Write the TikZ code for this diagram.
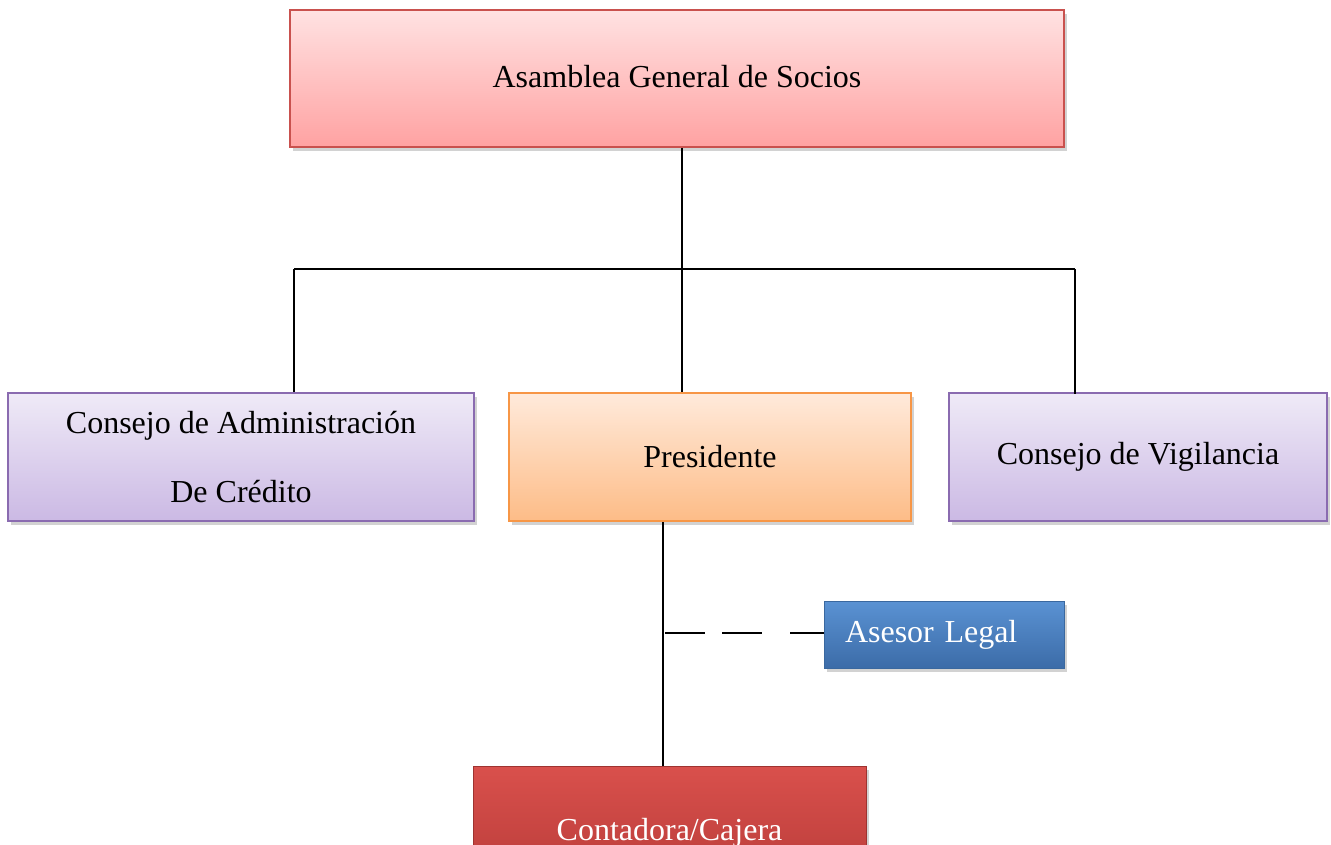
\documentclass[tikz,border=0pt]{standalone}
\usepackage{fontspec}
\setmainfont{Liberation Serif}
\usetikzlibrary{shadows}
\definecolor{redB}{HTML}{C9514E}
\definecolor{redT}{HTML}{FFE2E2}
\definecolor{redBo}{HTML}{FFA2A2}
\definecolor{purB}{HTML}{8A6BB0}
\definecolor{purT}{HTML}{EFEAF7}
\definecolor{purBo}{HTML}{CBB9E4}
\definecolor{oraB}{HTML}{F79646}
\definecolor{oraT}{HTML}{FFEADB}
\definecolor{oraBo}{HTML}{FDBC87}
\definecolor{bluT}{HTML}{5A92D3}
\definecolor{bluBo}{HTML}{3C6CA8}
\definecolor{bluB}{HTML}{3A689F}
\definecolor{ctT}{HTML}{D9504C}
\definecolor{ctBo}{HTML}{B53A37}
\definecolor{ctB}{HTML}{9E3330}
\tikzset{
  box/.style={rectangle, inner sep=0pt, line width=2pt, font=\fontsize{32}{38}\selectfont,
    drop shadow={shadow xshift=3pt, shadow yshift=-4pt, opacity=0.35, fill=gray}},
  redbox/.style={box, draw=redB, top color=redT, bottom color=redBo},
  purbox/.style={box, draw=purB, top color=purT, bottom color=purBo},
  orabox/.style={box, draw=oraB, top color=oraT, bottom color=oraBo},
  blubox/.style={box, draw=bluB, line width=1pt, top color=bluT, bottom color=bluBo, text=white},
  ctbox/.style={box, draw=ctB, line width=1pt, top color=ctT, bottom color=ctBo, text=white},
  conn/.style={draw=black, line width=1.8pt},
}
\begin{document}
\begin{tikzpicture}[x=1pt,y=-1pt]
\useasboundingbox (0,0) rectangle (1331,845);
\clip (0,0) rectangle (1331,845);
\fill[white] (0,0) rectangle (1331,845);

\node[redbox, minimum width=774pt, minimum height=137pt] (asam) at (677,78.5)
  {\raisebox{5pt}{Asamblea General de Socios}};
\node[purbox, minimum width=466pt, minimum height=128pt, align=center,
  font=\fontsize{32}{69}\selectfont] (cadm) at (241,457)
  {Consejo de Administración\\De Crédito};
\node[orabox, minimum width=402pt, minimum height=128pt] (pres) at (710,457) {Presidente};
\node[purbox, minimum width=378pt, minimum height=128pt] (cvig) at (1138,457) {\raisebox{2pt}{Consejo de Vigilancia}};
\node[blubox, minimum height=67pt, text width=198pt, inner xsep=21pt, align=left] (ases) at (944,634.5) {Asesor Legal};
\node[ctbox, minimum width=393pt, minimum height=134pt] (cont) at (669.5,833) {\raisebox{3pt}{Contadora/Cajera}};

\coordinate (hl) at (294,269);
\coordinate (hr) at (1075,269);
\coordinate (dj) at (663,633);

\draw[conn] ([xshift=5pt]asam.south) -- ([xshift=-28pt]pres.north);
\draw[conn] (hl) -- (hr);
\draw[conn] (hl) -- (hl |- cadm.north);
\draw[conn] (hr) -- ([yshift=-2pt]hr |- cvig.north);
\draw[conn] ([xshift=-47pt]pres.south) -- (cont.north -| dj);
\draw[conn, dash pattern=on 40pt off 17pt on 40pt off 28pt on 40pt off 0pt] ([xshift=2pt]dj) -- (dj -| ases.west);
\end{tikzpicture}
\end{document}
